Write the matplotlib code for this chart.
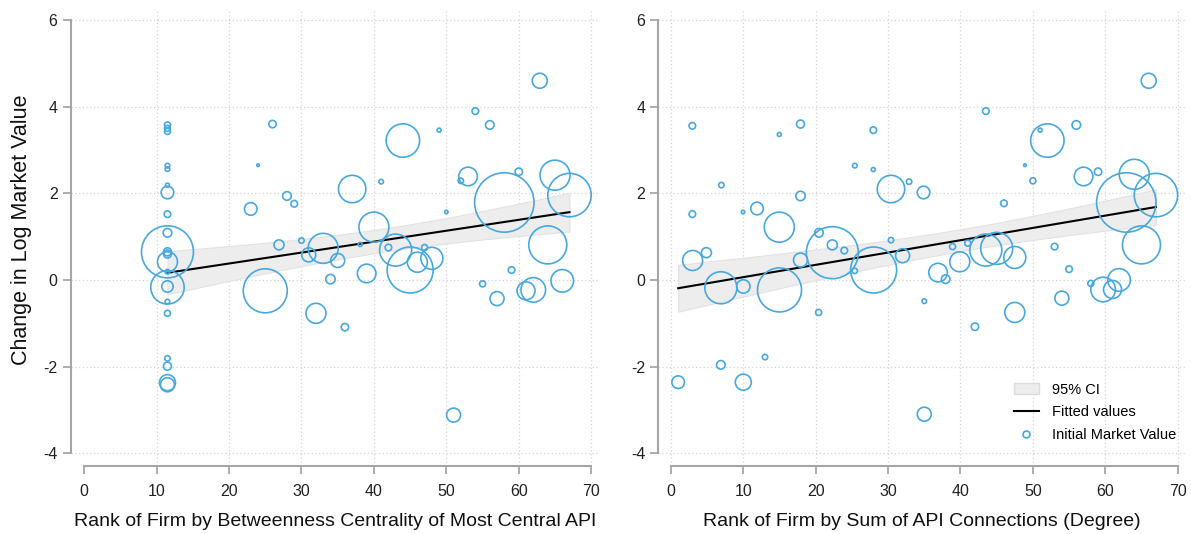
import numpy as np
import matplotlib.pyplot as plt
from matplotlib.lines import Line2D
from matplotlib.patches import Patch

plt.rcParams['font.family'] = ['Liberation Sans', 'DejaVu Sans']
plt.rcParams['axes.unicode_minus'] = False

# Left panel: rank by betweenness centrality of most central API
rank_betweenness = [11.5, 11.5, 11.5, 11.5, 11.5, 11.5, 11.5, 11.5, 11.5, 11.5,
                    11.5, 11.5, 11.5, 11.5, 11.5, 11.5, 11.5, 11.5, 11.5, 11.5,
                    11.5, 11.5, 26.0, 24.0, 23.0, 28.0, 29.0, 26.9, 30.0, 25.0,
                    31.0, 32.0, 33.0, 62.9, 54.0, 56.0, 49.0, 44.0, 41.0, 37.0,
                    53.0, 52.0, 60.0, 65.0, 67.0, 58.0, 50.0, 40.0, 64.0, 38.1,
                    42.0, 43.0, 47.0, 35.0, 39.0, 34.0, 45.0, 46.0, 48.0, 36.0,
                    51.0, 55.0, 57.0, 59.0, 61.0, 62.0, 66.0]
change_left = [3.58, 3.50, 3.43, 2.64, 2.56, 2.19, 2.02, 1.52, 1.09, 0.65,
               0.65, 0.60, 0.42, 0.19, -0.17, -0.15, -0.50, -0.77, -1.81, -1.99,
               -2.37, -2.42, 3.60, 2.65, 1.64, 1.94, 1.76, 0.81, 0.91, -0.25,
               0.58, -0.77, 0.73, 4.60, 3.90, 3.58, 3.46, 3.22, 2.27, 2.10,
               2.39, 2.29, 2.50, 2.42, 1.96, 1.79, 1.57, 1.22, 0.81, 0.82,
               0.75, 0.69, 0.75, 0.45, 0.15, 0.02, 0.23, 0.41, 0.50, -1.09,
               -3.12, -0.09, -0.43, 0.23, -0.25, -0.23, -0.02]
mktval_left = [3.0, 3.0, 3.0, 2.3, 2.3, 2.0, 6.3, 3.3, 4.3, 26.0,
               4.0, 4.0, 10.0, 2.3, 16.7, 5.7, 2.3, 3.0, 2.7, 4.0,
               8.0, 7.0, 3.7, 1.3, 6.3, 4.3, 3.3, 5.0, 2.7, 22.0,
               7.0, 10.0, 15.0, 7.5, 3.3, 4.3, 2.0, 16.7, 2.3, 13.7,
               9.3, 2.7, 3.7, 15.0, 21.7, 29.7, 1.7, 15.0, 19.0, 2.0,
               3.3, 16.0, 3.0, 7.0, 9.3, 4.7, 23.0, 10.0, 11.0, 3.7,
               7.0, 3.0, 7.0, 3.3, 9.0, 12.3, 11.3]

# Right panel: rank by sum of API connections (degree)
rank_degree = [2.96, 14.97, 17.9, 27.96, 6.97, 2.96, 17.9, 9.96, 11.9, 14.97,
               25.4, 27.95, 30.4, 32.9, 34.9, 20.45, 22.3, 22.3, 30.4, 66.0,
               43.5, 56.0, 51.0, 52.0, 48.9, 50.0, 57.0, 59.0, 64.0, 67.0,
               62.9, 46.0, 65.0, 38.9, 41.0, 43.5, 45.0, 53.0, 47.5, 36.9,
               37.95, 39.9, 55.0, 54.0, 58.0, 59.7, 61.0, 61.9, 35.0, 42.0,
               47.5, 35.0, 3.0, 4.9, 6.9, 10.0, 15.0, 17.9, 23.95, 25.4,
               28.0, 32.0, 20.4, 13.0, 6.9, 1.0, 10.0]
change_right = [3.56, 3.36, 3.60, 3.46, 2.19, 1.52, 1.94, 1.57, 1.65, 1.22,
                2.64, 2.55, 2.10, 2.27, 2.02, 1.09, 0.63, 0.81, 0.92, 4.60,
                3.90, 3.58, 3.46, 3.22, 2.65, 2.29, 2.39, 2.50, 2.44, 1.96,
                1.79, 1.77, 0.81, 0.77, 0.85, 0.69, 0.73, 0.77, 0.52, 0.17,
                0.02, 0.42, 0.25, -0.42, -0.08, -0.22, -0.22, 0.00, -0.49, -1.08,
                -0.75, -3.10, 0.45, 0.63, -0.18, -0.15, -0.23, 0.46, 0.68, 0.21,
                0.23, 0.56, -0.75, -1.78, -1.96, -2.36, -2.36]
mktval_right = [3.3, 2.0, 4.0, 3.3, 2.7, 3.3, 4.7, 1.7, 6.3, 15.0,
                2.3, 2.0, 13.7, 2.7, 6.3, 4.3, 26.0, 5.0, 2.7, 7.5,
                3.3, 4.3, 2.0, 16.7, 1.3, 3.0, 9.3, 3.7, 15.0, 21.7,
                29.7, 3.3, 19.0, 3.0, 3.0, 16.0, 16.0, 3.3, 11.0, 9.3,
                4.3, 10.0, 3.3, 7.0, 3.0, 12.3, 9.0, 11.3, 2.3, 3.7,
                10.0, 7.0, 10.0, 5.0, 16.0, 6.7, 22.0, 7.0, 3.3, 2.7,
                23.0, 7.0, 3.0, 2.7, 4.3, 6.3, 8.0]

x_ticks = [0, 10, 20, 30, 40, 50, 60, 70]
y_ticks = [-4, -2, 0, 2, 4, 6]

BLUE = '#48a8de'
GREY = '#a6a6a6'
T_CRIT = 1.997  # t(0.975) with n-2 = 65 degrees of freedom


def fit_ci(x, y, mv):
    # weighted linear fit (weight = bubble area) with 95% band of the mean
    x = np.asarray(x, dtype=float)
    y = np.asarray(y, dtype=float)
    w = np.asarray(mv, dtype=float) ** 2
    w = w * len(w) / w.sum()
    n = len(x)
    X = np.column_stack([np.ones(n), x])
    XtW = X.T * w
    beta = np.linalg.solve(XtW @ X, XtW @ y)
    resid = y - X @ beta
    s2 = np.sum(w * resid ** 2) / (n - 2)
    cov = s2 * np.linalg.inv(XtW @ X)
    xs = np.linspace(x.min(), x.max(), 100)
    Xs = np.column_stack([np.ones_like(xs), xs])
    yhat = Xs @ beta
    se = np.sqrt(np.einsum('ij,jk,ik->i', Xs, cov, Xs))
    return xs, yhat, yhat - T_CRIT * se, yhat + T_CRIT * se


def draw_panel(ax, x, y, mv, xlabel, xlim):
    ax.set_xlim(*xlim)
    ax.set_ylim(-4.3, 6.2)

    # dotted grid
    for yt in y_ticks:
        ax.axhline(yt, color='#d4d4d4', lw=0.9, ls=(0, (1, 2)), zorder=0)
    for xt in x_ticks:
        if xt == 0 and xlim[0] < -1.8:
            continue
        ax.axvline(xt, color='#d4d4d4', lw=0.9, ls=(0, (1, 2)), zorder=0)

    xs, yhat, lo, hi = fit_ci(x, y, mv)
    ax.fill_between(xs, lo, hi, color='#ededed', edgecolor='#e2e2e2', lw=0.8, zorder=1)
    ax.plot(xs, yhat, color='black', lw=1.5, zorder=2)

    sizes = (1.44 * np.asarray(mv)) ** 2
    ax.scatter(x, y, s=sizes, facecolors='none', edgecolors=BLUE, linewidths=1.2, zorder=3)

    ax.set_xticks(x_ticks)
    ax.set_yticks(y_ticks)
    ax.spines['top'].set_visible(False)
    ax.spines['right'].set_visible(False)
    for side in ('left', 'bottom'):
        ax.spines[side].set_color(GREY)
        ax.spines[side].set_linewidth(1.5)
    ax.spines['left'].set_bounds(-4, 6)
    ax.spines['bottom'].set_bounds(0, 70)
    ax.tick_params(axis='both', colors=GREY, labelcolor='#222222', labelsize=11.5,
                   length=6, width=1.3, direction='out')
    ax.tick_params(axis='x', pad=7)
    ax.set_xlabel(xlabel, fontsize=14, color='#111111', labelpad=10)


fig = plt.figure(figsize=(11.91, 5.34), dpi=100)
ax1 = fig.add_axes([0.0594, 0.127, 0.4437, 0.8515])
ax2 = fig.add_axes([0.5528, 0.127, 0.4427, 0.8515])

draw_panel(ax1, rank_betweenness, change_left, mktval_left,
           'Rank of Firm by Betweenness Centrality of Most Central API', (-1.85, 71.1))
draw_panel(ax2, rank_degree, change_right, mktval_right,
           'Rank of Firm by Sum of API Connections (Degree)', (-1.73, 71.1))
ax1.set_ylabel('Change in Log Market Value', fontsize=15.5, color='#111111')
ax1.yaxis.set_label_coords(-0.073, 0.52)

handles = [Patch(facecolor='#ededed', edgecolor='#dcdcdc'),
           Line2D([], [], color='black', lw=1.5),
           Line2D([], [], marker='o', ls='none', mfc='none', mec=BLUE, mew=1.2, ms=5)]
fig.legend(handles, ['95% CI', 'Fitted values', 'Initial Market Value'],
           loc='lower left', bbox_to_anchor=(0.8514, 0.172), bbox_transform=fig.transFigure,
           frameon=False, fontsize=10.5, borderpad=0, borderaxespad=0,
           handlelength=1.7, handletextpad=0.9, labelspacing=0.6)

fig.savefig('out.png', dpi=100)
